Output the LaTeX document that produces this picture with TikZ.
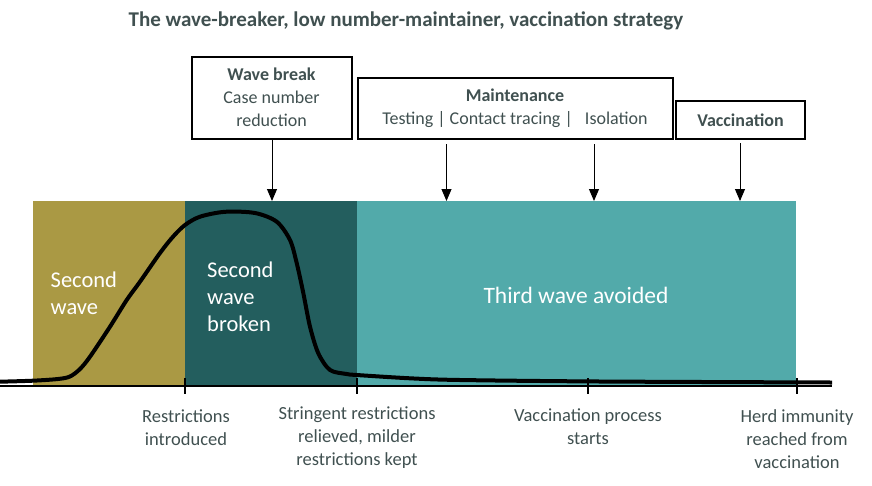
\documentclass[tikz,border=0pt]{standalone}
\usepackage{fontspec}
\setmainfont{Carlito}
\usepackage{tikz}
\usetikzlibrary{arrows.meta, positioning}
\definecolor{olivewave}{RGB}{170,153,68}
\definecolor{darkteal}{RGB}{35,94,94}
\definecolor{lightteal}{RGB}{82,170,170}
\definecolor{labelgray}{RGB}{64,80,80}
\tikzset{
	band/.style={inner sep=0pt, outer sep=0pt, anchor=north west, minimum height=185pt},
	phasebox/.style={draw, line width=2pt, inner sep=0pt, align=center, text=labelgray, font=\fontsize{18}{23}\selectfont},
	droparr/.style={-{Triangle[width=10pt,length=12pt]}, line width=0.9pt},
	ticklbl/.style={inner sep=0pt, anchor=north, align=center, text=labelgray, font=\fontsize{18.5}{22.8}\selectfont},
	bandlbl/.style={inner sep=0pt, text=white, font=\fontsize{22.5}{27}\selectfont},
}

\begin{document}
\begin{tikzpicture}[x=1pt, y=-1pt]
	\useasboundingbox (0,0) rectangle (872,485);
	% Title
	\node[text=labelgray, font=\fontsize{21}{25}\selectfont\bfseries] (title) at (406,21) {The wave-breaker, low number-maintainer, vaccination strategy};
	% Coloured phases
	\node[band, fill=olivewave, minimum width=152pt] (second) at (33,201) {};
	\node[band, fill=darkteal, minimum width=172pt] (broken) at (185,201) {};
	\node[band, fill=lightteal, minimum width=439pt] (avoided) at (357,201) {};
	\node[bandlbl, anchor=north west, align=left] (secondlbl) at (50.5,272) {Second\\wave};
	\node[bandlbl, anchor=north west, align=left] (brokenlbl) at (207,261.5) {Second\\wave\\broken};
	\node[bandlbl, font=\fontsize{23.5}{28}\selectfont] (avoidedlbl) at (576,295) {Third wave avoided};
	% Epidemic curve
	\draw[line width=4pt, line join=round] plot[smooth, tension=0.5] coordinates {(0,381.7) (33,380.7) (58,379) (70,376.5) (80,369) (90,356.7) (110,326.7) (126.7,300) (140,281.7) (160,253) (173,236.7) (185,225) (200,216.7) (225,211.8) (255,213) (276.7,221.7) (290,240) (296.7,263) (303.3,293) (310,326.7) (318.3,353.3) (330,370) (346.7,374) (356.7,375) (410,378.3) (460,380) (600,381.5) (832,382.5)};
	% Time axis and ticks
	\draw[line width=2pt] (0,386) -- (832,386);
	\foreach \tx in {185,357,588,797}
		\draw[line width=1.5pt] (\tx,378) -- (\tx,394);
	\node[ticklbl] (restrict) at (186,409.5) {Restrictions\\introduced};
	\node[ticklbl] (relieved) at (357,406.5) {Stringent restrictions\\relieved, milder\\restrictions kept};
	\node[ticklbl] (vacstart) at (588,408.5) {Vaccination process\\starts};
	\node[ticklbl] (herd) at (797,409.5) {Herd immunity\\reached from\\vaccination};
	% Strategy boxes
	\node[phasebox, minimum width=160pt, minimum height=82pt] (wavebox) at (271.5,97.5) {\textbf{Wave break}\\Case number\\reduction};
	\node[phasebox, minimum width=315pt, minimum height=61pt] (mainbox) at (515,108.5) {\textbf{Maintenance}\\Testing | Contact tracing | \ \ Isolation};
	\node[phasebox, minimum width=129pt, minimum height=38pt] (vacbox) at (740.5,120) {\textbf{Vaccination}};
	% Arrows onto the phases
	\coordinate (wbtip) at (272,201);
	\coordinate (mttipA) at (446.5,201);
	\coordinate (mttipB) at (594,201);
	\coordinate (vctip) at (740,201);
	\draw[droparr] (wavebox.south -| wbtip) -- (wbtip);
	\draw[droparr] ([yshift=-4pt]mainbox.south -| mttipA) -- (mttipA);
	\draw[droparr] ([yshift=-4pt]mainbox.south -| mttipB) -- (mttipB);
	\draw[droparr] ([yshift=-3pt]vacbox.south -| vctip) -- (vctip);
\end{tikzpicture}
\end{document}
